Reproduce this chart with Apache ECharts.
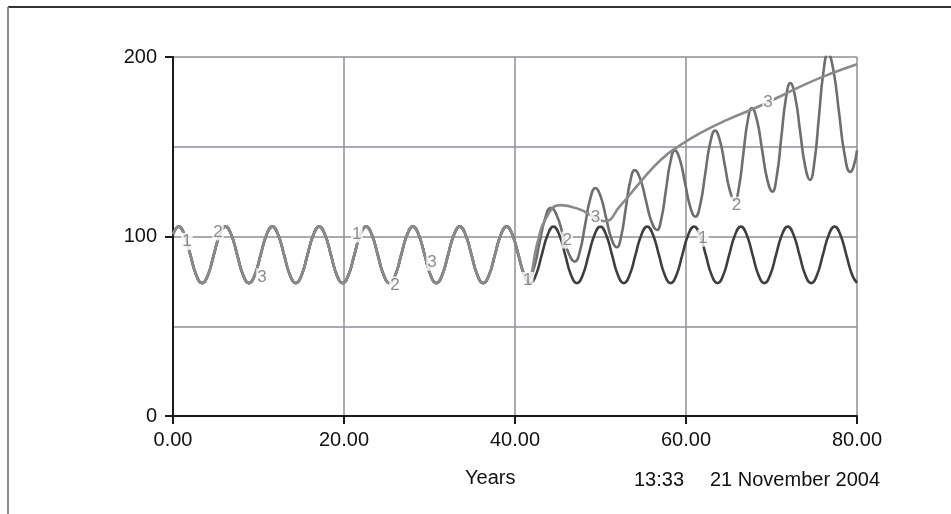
<!DOCTYPE html>
<html>
<head>
<meta charset="utf-8">
<script src="https://cdn.jsdelivr.net/npm/echarts@6/dist/echarts.min.js"></script>
<style>
html,body{margin:0;padding:0;background:#fff;}
#chart{width:951px;height:514px;}
</style>
</head>
<body>
<div id="chart"></div>
<script>
// ---- data (years, value) ----
// Part common to all three runs (they coincide until ~39 years)
var sharedPart = [
  [0, 101.2],
  [0.66, 105.5], [1.345, 100.9], [2.03, 89.75], [2.715, 78.6], [3.4, 74], [4.085, 78.6], [4.77, 89.75], [5.455, 100.9],
  [6.14, 105.5], [6.825, 100.9], [7.51, 89.75], [8.195, 78.6], [8.88, 74], [9.565, 78.6], [10.25, 89.75], [10.935, 100.9],
  [11.62, 105.5], [12.305, 100.9], [12.99, 89.75], [13.675, 78.6], [14.36, 74], [15.045, 78.6], [15.73, 89.75], [16.415, 100.9],
  [17.1, 105.5], [17.785, 100.9], [18.47, 89.75], [19.155, 78.6], [19.84, 74], [20.525, 78.6], [21.21, 89.75], [21.895, 100.9],
  [22.58, 105.5], [23.265, 100.9], [23.95, 89.75], [24.635, 78.6], [25.32, 74], [26.005, 78.6], [26.69, 89.75], [27.375, 100.9],
  [28.06, 105.5], [28.745, 100.9], [29.43, 89.75], [30.115, 78.6], [30.8, 74], [31.485, 78.6], [32.17, 89.75], [32.855, 100.9],
  [33.54, 105.5], [34.225, 100.9], [34.91, 89.75], [35.595, 78.6], [36.28, 74], [36.965, 78.6], [37.65, 89.75], [38.335, 100.9],
  [39.02, 105.5]
];
var tail1 = [
  [39.705, 100.9], [40.39, 89.75], [41.075, 78.6], [41.76, 74], [42.445, 78.6], [43.13, 89.75], [43.815, 100.9],
  [44.5, 105.5], [45.185, 100.9], [45.87, 89.75], [46.555, 78.6], [47.24, 74], [47.925, 78.6], [48.61, 89.75], [49.295, 100.9],
  [49.98, 105.5], [50.665, 100.9], [51.35, 89.75], [52.035, 78.6], [52.72, 74], [53.405, 78.6], [54.09, 89.75], [54.775, 100.9],
  [55.46, 105.5], [56.145, 100.9], [56.83, 89.75], [57.515, 78.6], [58.2, 74], [58.885, 78.6], [59.57, 89.75], [60.255, 100.9],
  [60.94, 105.5], [61.625, 100.9], [62.31, 89.75], [62.995, 78.6], [63.68, 74], [64.365, 78.6], [65.05, 89.75], [65.735, 100.9],
  [66.42, 105.5], [67.105, 100.9], [67.79, 89.75], [68.475, 78.6], [69.16, 74], [69.845, 78.6], [70.53, 89.75], [71.215, 100.9],
  [71.9, 105.5], [72.585, 100.9], [73.27, 89.75], [73.955, 78.6], [74.64, 74], [75.325, 78.6], [76.01, 89.75], [76.695, 100.9],
  [77.38, 105.5], [78.065, 100.9], [78.75, 89.75], [79.435, 78.6], [80, 74.2]
];
var tail2 = [
  [39.705, 100.9], [40.39, 90], [40.95, 80.5], [41.5, 76],
  [42.175, 81.9], [42.85, 96], [43.525, 110.1], [44.2, 116],
  [44.9, 111.6], [45.6, 101], [46.3, 90.4], [47.0, 86],
  [47.6, 92.0], [48.2, 106.5], [48.8, 121.0], [49.4, 127],
  [50.025, 122.2], [50.65, 110.5], [51.275, 98.8], [51.9, 94],
  [52.425, 100.3], [52.95, 115.5], [53.475, 130.7], [54.0, 137],
  [54.65, 132.1], [55.3, 120.3], [55.95, 108.5], [56.6, 103.6],
  [57.125, 110.1], [57.65, 125.8], [58.175, 141.5], [58.7, 148],
  [59.3, 142.6], [59.9, 129.5], [60.5, 116.4], [61.1, 111],
  [61.675, 118.0], [62.25, 135], [62.825, 152.0], [63.4, 159],
  [63.975, 153.3], [64.55, 139.5], [65.125, 125.7], [65.7, 120],
  [66.2, 127.6], [66.7, 145.8], [67.2, 164.0], [67.7, 171.6],
  [68.3, 164.8], [68.9, 148.3], [69.5, 131.8], [70.1, 125],
  [70.625, 133.9], [71.15, 155.3], [71.675, 176.6], [72.2, 185.5],
  [72.775, 177.6], [73.35, 158.5], [73.925, 139.4], [74.5, 131.5],
  [75.025, 141.8], [75.55, 166.8], [76.075, 191.7], [76.6, 202],
  [77.25, 192.3], [77.9, 169], [78.55, 145.7], [79.2, 136],
  [79.6, 139], [80, 148]
];
var tail3 = [
  [39.705, 100.9], [40.39, 90], [40.95, 80.5], [41.5, 76], [42.6, 96], [43.6, 110], [45.3, 117.5], [47.6, 115],
  [49.2, 111], [50.5, 108.5], [52.3, 117], [54.6, 130], [57, 142.5], [59.2, 150.5],
  [61.6, 157.5], [64.8, 165], [68.3, 172], [71, 178], [73.8, 184.5], [76.8, 190.5], [80, 196]
];
// series number labels drawn along the curves: [year, value, text]
var curveLabels = [
  [1.64, 97.2, '1'], [21.5, 101.4, '1'], [41.5, 75.5, '1'], [62.0, 99.1, '1'],
  [5.26, 102.6, '2'], [25.95, 73.0, '2'], [46.1, 98.0, '2'], [65.9, 117.5, '2'],
  [10.4, 77.5, '3'], [30.3, 85.7, '3'], [49.4, 110.9, '3'], [69.6, 174.9, '3']
];
var xTicks = [0, 20, 40, 60, 80];
var yLabelTicks = [0, 100, 200];
var xTitle = 'Years';
var stampTime = '13:33';
var stampDate = '21 November 2004';

var FONT = '"Liberation Sans", Arial, sans-serif';
var GRID_COLOR = '#8b9096';

var chart = echarts.init(document.getElementById('chart'), null, {renderer: 'canvas'});
var lineCommon = {
  type: 'line', showSymbol: false, symbol: 'none', smooth: 0.5,
  silent: true, yAxisIndex: 0
};
chart.setOption({
  animation: false,
  backgroundColor: '#ffffff',
  grid: {left: 173, right: 94, top: 57, bottom: 98, containLabel: false},
  xAxis: {
    type: 'value', min: xTicks[0], max: xTicks[xTicks.length - 1], interval: xTicks[1] - xTicks[0],
    axisLine: {show: true, onZero: false, lineStyle: {color: '#1a1a1a', width: 2}},
    axisTick: {show: true, length: 8, lineStyle: {color: '#1a1a1a', width: 2}},
    axisLabel: {fontFamily: FONT, fontSize: 20, color: '#111', margin: 14,
      formatter: function (v) { return v.toFixed(2); }},
    splitLine: {show: true, lineStyle: {color: GRID_COLOR, width: 1.5}}
  },
  yAxis: [
    {
      type: 'value', min: 0, max: 200, interval: 50,
      axisLine: {show: false}, axisTick: {show: false}, axisLabel: {show: false},
      splitLine: {show: true, lineStyle: {color: GRID_COLOR, width: 1.5}}
    },
    {
      type: 'value', min: yLabelTicks[0], max: yLabelTicks[yLabelTicks.length - 1],
      interval: yLabelTicks[1] - yLabelTicks[0], position: 'left',
      axisLine: {show: true, onZero: false, lineStyle: {color: '#1a1a1a', width: 2}},
      axisTick: {show: true, length: 8, lineStyle: {color: '#1a1a1a', width: 2}},
      axisLabel: {fontFamily: FONT, fontSize: 20, color: '#111', margin: 16},
      splitLine: {show: false}
    }
  ],
  series: [
    Object.assign({}, lineCommon, {name: '1', data: sharedPart.concat(tail1),
      lineStyle: {color: '#3e3e3e', width: 2.6}, z: 2}),
    Object.assign({}, lineCommon, {name: '2', data: sharedPart.concat(tail2),
      lineStyle: {color: '#6e6e6e', width: 2.6}, z: 3}),
    Object.assign({}, lineCommon, {name: '3', data: sharedPart.concat(tail3),
      lineStyle: {color: '#8a8a8a', width: 2.6}, z: 4}),
    {
      type: 'scatter', silent: true, symbolSize: 0, z: 6, yAxisIndex: 0,
      data: curveLabels,
      label: {
        show: true, position: 'inside', fontFamily: FONT, fontSize: 17, color: '#707070',
        backgroundColor: '#ffffff', padding: [0, 1],
        formatter: function (p) { return p.data[2]; }
      }
    }
  ],
  graphic: [
    {type: 'line', shape: {x1: 8, y1: 7, x2: 951, y2: 7}, style: {stroke: '#333', lineWidth: 2}},
    {type: 'line', shape: {x1: 8, y1: 7, x2: 8, y2: 514}, style: {stroke: '#8a8a8a', lineWidth: 2}},
    {type: 'text', left: 465, top: 468, style: {text: xTitle, font: '20px ' + FONT, fill: '#111'}},
    {type: 'text', left: 634, top: 470, style: {text: stampTime, font: '20px ' + FONT, fill: '#111'}},
    {type: 'text', left: 710, top: 470, style: {text: stampDate, font: '20px ' + FONT, fill: '#111'}}
  ]
});
</script>
</body>
</html>
